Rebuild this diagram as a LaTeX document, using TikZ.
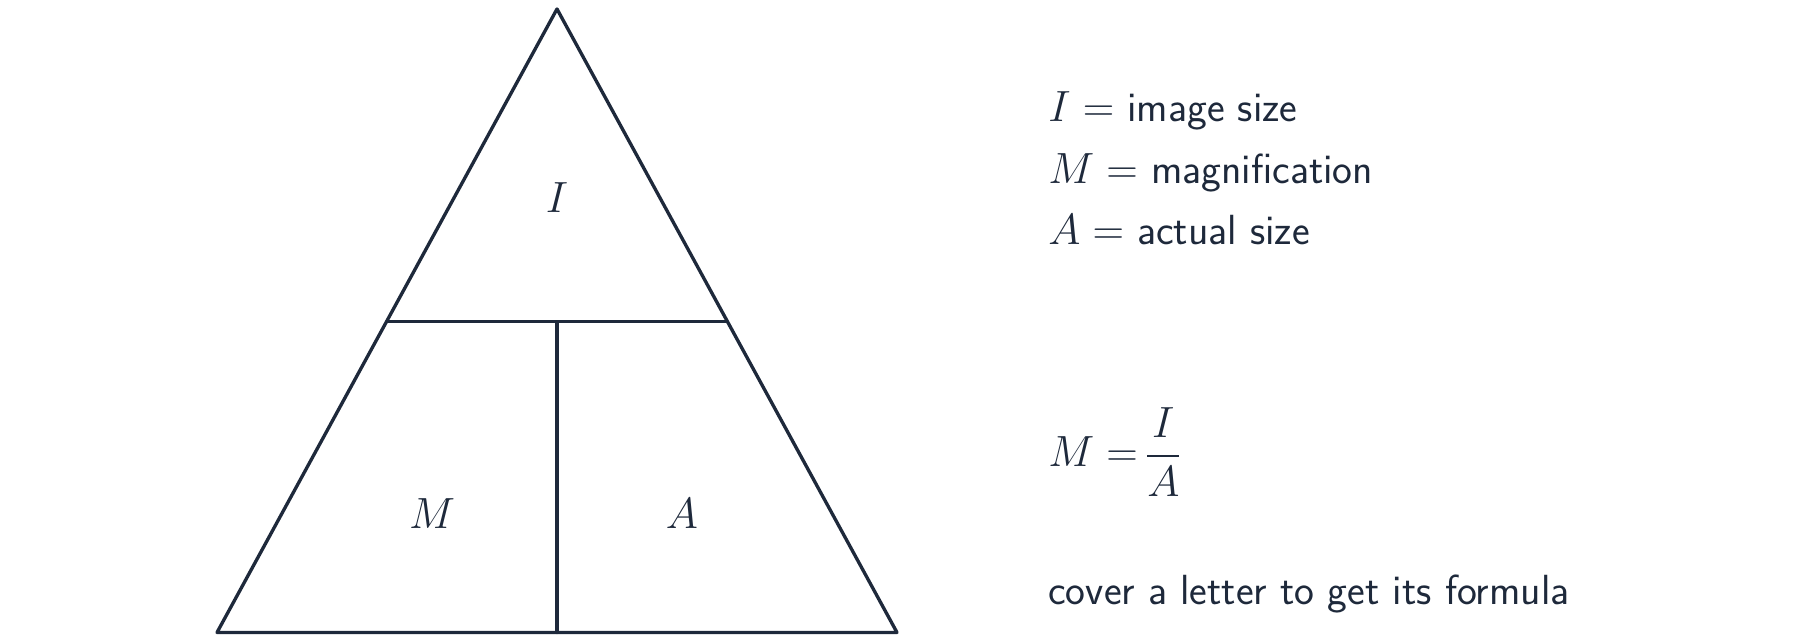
\documentclass[tikz,border=0pt]{standalone}
\usepackage{amsmath}
\definecolor{ink}{HTML}{1E293B}
\tikzset{
  edge/.style={draw=ink, line width=1.9pt, line join=round, line cap=round},
  lab/.style={text=ink, inner sep=0pt, font=\fontsize{24}{28}\selectfont},
  txt/.style={text=ink, inner sep=0pt, anchor=base west, font=\fontsize{24}{28}\selectfont\sffamily},
}
\begin{document}
\begin{tikzpicture}[x=0.02cm, y=-0.02cm]
\useasboundingbox (0,0) rectangle (1800,644);
\coordinate (top) at (557,9);
\coordinate (bl) at (217,632.5);
\coordinate (br) at (897,632.5);
\coordinate (ml) at (387,321.7);
\coordinate (mr) at (727,321.7);
\coordinate (mm) at (557,321.7);
\coordinate (bm) at (557,632.5);
\draw[edge] (top) -- (bl) -- (br) -- cycle;
\draw[edge] (ml) -- (mr);
\draw[edge] (mm) -- (bm);
\node[lab] (li) at (557,197.5) {$I$};
\node[lab] (lm) at (432,514) {$M$};
\node[lab] (la) at (682,514) {$A$};
\node[txt] (t1) at (1048,121.5) {$I =$ image size};
\node[txt] (t2) at (1048,183.5) {$M =$ magnification};
\node[txt] (t3) at (1048,245) {$A =$ actual size};
\node[txt, anchor=west] (f) at (1048,452) {$M = \mkern-2mu\dfrac{I}{A}$};
\node[txt] (c) at (1048,605) {cover a letter to get its formula};
\end{tikzpicture}
\end{document}
